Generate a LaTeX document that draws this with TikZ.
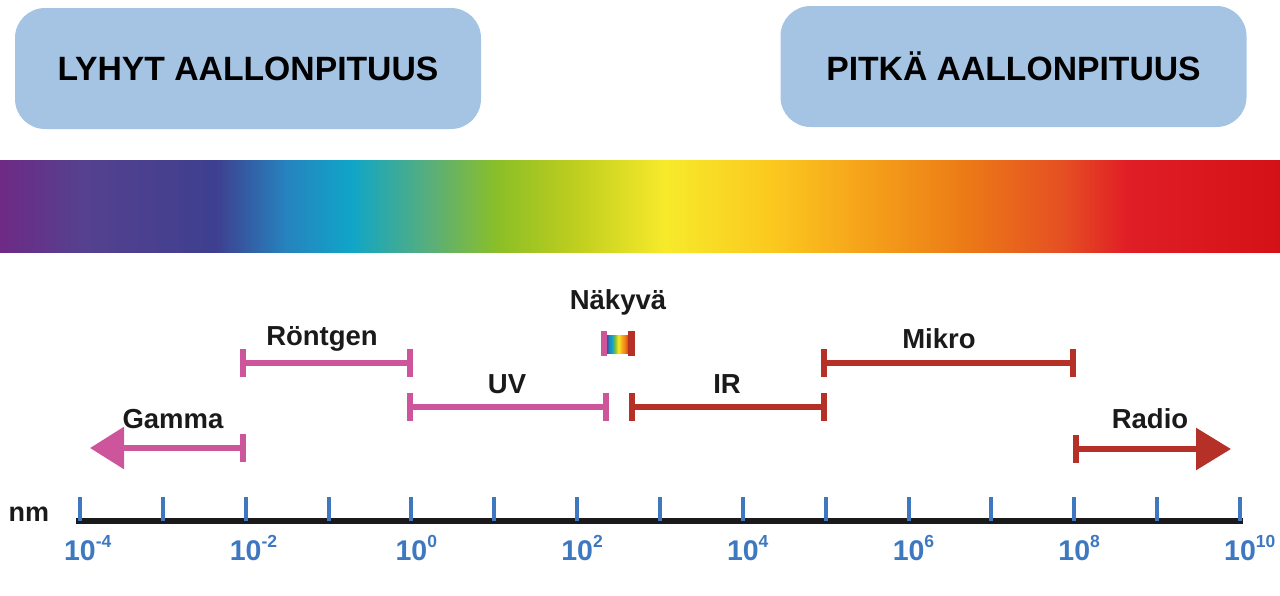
\documentclass[tikz,border=0pt]{standalone}
\usepackage{fontspec}
\setmainfont{Liberation Sans}
\usetikzlibrary{arrows.meta}
\definecolor{boxblue}{HTML}{A5C4E3}
\definecolor{pinkc}{HTML}{CD559C}
\definecolor{redc}{HTML}{B53127}
\definecolor{tickblue}{HTML}{3D78C0}
\definecolor{txt}{HTML}{1A1A1A}
\definecolor{s1}{HTML}{6E2A85}
\definecolor{s2}{HTML}{55418F}
\definecolor{s3}{HTML}{3E3F8F}
\definecolor{s4}{HTML}{2683BE}
\definecolor{s5}{HTML}{10A5C8}
\definecolor{s6}{HTML}{5BAF77}
\definecolor{s7}{HTML}{8BBF27}
\definecolor{s8}{HTML}{BCCD1E}
\definecolor{s9}{HTML}{F7EA2B}
\definecolor{s10}{HTML}{FBC71E}
\definecolor{s11}{HTML}{F6A51B}
\definecolor{s12}{HTML}{EC7B16}
\definecolor{s13}{HTML}{E55023}
\definecolor{s14}{HTML}{E01E26}
\definecolor{s15}{HTML}{D41116}
\pgfdeclarehorizontalshading{spectrum}{100bp}{color(0bp)=(s1); color(25bp)=(s1); color(28.2bp)=(s2); color(33.44bp)=(s3); color(36.17bp)=(s4); color(38.71bp)=(s5); color(41.91bp)=(s6); color(44.45bp)=(s7); color(47.3bp)=(s8); color(50.98bp)=(s9); color(55.31bp)=(s10); color(58.48bp)=(s11); color(62.62bp)=(s12); color(66.45bp)=(s13); color(69.02bp)=(s14); color(75bp)=(s15); color(100bp)=(s15)}
\pgfdeclarehorizontalshading{minispec}{100bp}{color(0bp)=(s3); color(25bp)=(s3); color(32bp)=(s4); color(38bp)=(s5); color(45bp)=(s7); color(52bp)=(s9); color(60bp)=(s11); color(67bp)=(s12); color(75bp)=(s14); color(100bp)=(s14)}
\tikzset{
  headbox/.style={fill=boxblue, rounded corners=30pt, minimum width=466pt, minimum height=121pt, inner sep=0pt, font=\fontsize{33.7}{36}\selectfont\bfseries, text=black},
  lbl/.style={font=\fontsize{27.5}{30}\selectfont\bfseries, text=txt},
  axlbl/.style={font=\fontsize{28.5}{32}\selectfont\bfseries, text=tickblue},
  pinkbar/.style={draw=pinkc, line width=6pt},
  redbar/.style={draw=redc, line width=6pt},
  endpink/.style={draw=pinkc, line width=6pt},
  endred/.style={draw=redc, line width=6pt},
  tickline/.style={draw=tickblue, line width=4pt},
}
\begin{document}
\begin{tikzpicture}[x=1pt,y=-1pt]
\useasboundingbox (0,0) rectangle (1280,595);
% header boxes
\node[headbox] (short) at (248,68.5) {LYHYT AALLONPITUUS};
\node[headbox] (long) at (1013.5,66.5) {PITKÄ AALLONPITUUS};
% spectrum
\shade[shading=spectrum] (0,160) rectangle (1280,252);
% axis
\coordinate (a0) at (76,521);
\coordinate (a1) at (1243,521);
\draw[line width=6.5pt, draw=txt] (a0) -- (a1);
\foreach \i in {0,...,14}{
  \coordinate (t\i) at ({80+\i*82.86},521);
  \draw[tickline] ([yshift=0pt]t\i) -- ([yshift=24pt]t\i);
}
\node[font=\fontsize{27}{30}\selectfont\bfseries, text=txt] (nm) at (29,514) {nm};
\foreach \i/\e in {0/-4,2/-2,4/0,6/2,8/4,10/6,12/8,14/10}{
  \node[axlbl, anchor=base] (l\i) at ([yshift=-39pt]t\i) {10\rlap{\raisebox{0.45em}{\fontsize{17.5}{18}\selectfont\e}}};
}
% range coordinates
\coordinate (gA) at (90,448);  \coordinate (gB) at (243,448);
\coordinate (rA) at (243,363); \coordinate (rB) at (410,363);
\coordinate (uA) at (410,407); \coordinate (uB) at (606,407);
\coordinate (iA) at (632,407); \coordinate (iB) at (824,407);
\coordinate (mA) at (824,363); \coordinate (mB) at (1073,363);
\coordinate (dA) at (1076,449); \coordinate (dB) at (1231,449);
% Gamma
\draw[pinkbar, -{Triangle[length=34pt,width=41pt]}] (gB) -- (gA);
\draw[endpink] ([yshift=14pt]gB) -- ([yshift=-14pt]gB);
\node[lbl] (gamma) at (173,419) {Gamma};
% Rontgen
\draw[pinkbar] (rA) -- (rB);
\draw[endpink] ([yshift=14pt]rA) -- ([yshift=-14pt]rA);
\draw[endpink] ([yshift=14pt]rB) -- ([yshift=-14pt]rB);
\node[lbl] (ront) at (322,339) {Röntgen};
% UV
\draw[pinkbar] (uA) -- (uB);
\draw[endpink] ([yshift=14pt]uA) -- ([yshift=-14pt]uA);
\draw[endpink] ([yshift=14pt]uB) -- ([yshift=-14pt]uB);
\node[lbl] (uv) at (507,384) {UV};
% IR
\draw[redbar] (iA) -- (iB);
\draw[endred] ([yshift=14pt]iA) -- ([yshift=-14pt]iA);
\draw[endred] ([yshift=14pt]iB) -- ([yshift=-14pt]iB);
\node[lbl] (ir) at (727,384) {IR};
% Mikro
\draw[redbar] (mA) -- (mB);
\draw[endred] ([yshift=14pt]mA) -- ([yshift=-14pt]mA);
\draw[endred] ([yshift=14pt]mB) -- ([yshift=-14pt]mB);
\node[lbl] (mikro) at (939,339) {Mikro};
% Radio
\draw[redbar, -{Triangle[length=35pt,width=41pt]}] (dA) -- (dB);
\draw[endred] ([yshift=14pt]dA) -- ([yshift=-14pt]dA);
\node[lbl] (radio) at (1150,419) {Radio};
% Nakyva
\node[lbl] (nak) at (618,302) {Näkyvä};
\shade[shading=minispec] (606,335) rectangle (629,353);
\fill[pinkc] (601,331) rectangle (607,356);
\fill[redc] (628,331) rectangle (635,356);
\end{tikzpicture}
\end{document}
